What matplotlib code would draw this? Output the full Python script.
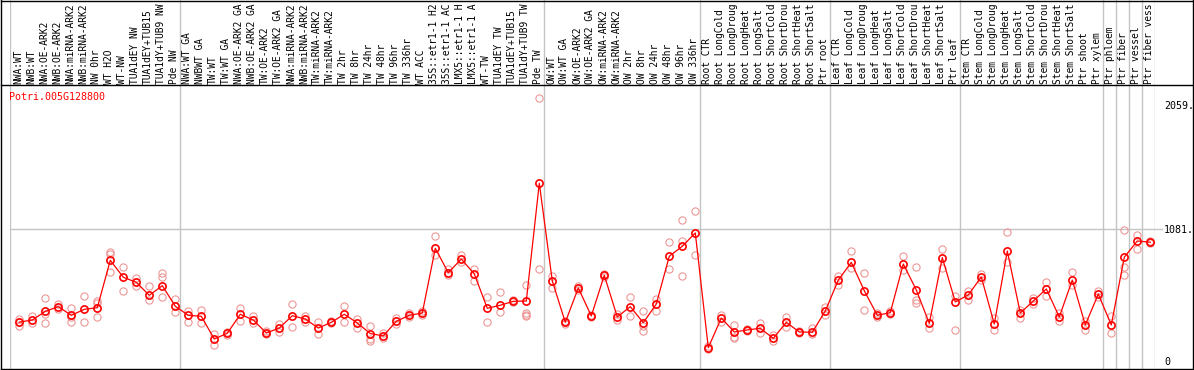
import matplotlib
matplotlib.use("Agg")
import matplotlib.pyplot as plt
from matplotlib.lines import Line2D

gene = "Potri.005G128800"

# sample names as they appear in the header (cut to 14 characters)
samples = [
    'NWA:WT', 'NWB:WT', 'NWA:OE-ARK2', 'NWB:OE-ARK2', 'NWA:miRNA-ARK2', 'NWB:miRNA-ARK2',
    'NW 0hr', 'WT H2O', 'WT-NW', 'TUA1dEY NW', 'TUA1dEY+TUB15', 'TUA1dY+TUB9 NW', 'Pde NW',
    'NWA:WT GA', 'NWBWT GA', 'TW:WT', 'TW:WT GA', 'NWA:OE-ARK2 GA', 'NWB:OE-ARK2 GA',
    'TW:OE-ARK2', 'TW:OE-ARK2 GA', 'NWA:miRNA-ARK2', 'NWB:miRNA-ARK2', 'TW:miRNA-ARK2',
    'TW:miRNA-ARK2', 'TW 2hr', 'TW 8hr', 'TW 24hr', 'TW 48hr', 'TW 96hr', 'TW 336hr',
    'WT ACC', '35S::etr1-1 H2', '35S::etr1-1 AC', 'LMX5::etr1-1 H', 'LMX5::etr1-1 A',
    'WT-TW', 'TUA1dEY TW', 'TUA1dEY+TUB15', 'TUA1dY+TUB9 TW', 'Pde TW',
    'OW:WT', 'OW:WT GA', 'OW:OE-ARK2', 'OW:OE-ARK2 GA', 'OW:miRNA-ARK2', 'OW:miRNA-ARK2',
    'OW 2hr', 'OW 8hr', 'OW 24hr', 'OW 48hr', 'OW 96hr', 'OW 336hr',
    'Root CTR', 'Root LongCold', 'Root LongDroug', 'Root LongHeat', 'Root LongSalt',
    'Root ShortCold', 'Root ShortDrou', 'Root ShortHeat', 'Root ShortSalt', 'Ptr root',
    'Leaf CTR', 'Leaf LongCold', 'Leaf LongDroug', 'Leaf LongHeat', 'Leaf LongSalt',
    'Leaf ShortCold', 'Leaf ShortDrou', 'Leaf ShortHeat', 'Leaf ShortSalt', 'Ptr leaf',
    'Stem CTR', 'Stem LongCold', 'Stem LongDroug', 'Stem LongHeat', 'Stem LongSalt',
    'Stem ShortCold', 'Stem ShortDrou', 'Stem ShortHeat', 'Stem ShortSalt', 'Ptr shoot',
    'Ptr xylem', 'Ptr phloem', 'Ptr fiber', 'Ptr vessel', 'Ptr fiber vess',
]

# index of the first sample of each group (group separators)
group_starts = [13, 41, 53, 63, 73, 84, 85, 86, 87]

means = [
    353, 369, 437, 474, 406, 453, 466, 838, 705, 665, 563, 639, 477,
    406, 398, 220, 265, 414, 369, 267, 306, 403, 377, 306, 351, 414, 346, 263,
    244, 359, 406, 424, 932, 741, 848, 731, 461, 485, 516, 518, 1443,
    676, 351, 621, 401, 720, 393, 474, 348, 495, 870, 948, 1053,
    152, 385, 275, 291, 304, 225, 351, 275, 273, 440,
    683, 822, 599, 406, 427, 809, 605, 343, 859, 511,
    566, 707, 338, 911, 424, 518, 613, 393, 683, 330, 573,
    330, 862, 990, 980,
]

replicates = [
    [377, 353, 322], [401, 346], [540, 416, 343], [495, 456], [461, 356, 395],
    [555, 356], [521, 500, 390], [901, 885, 744], [788, 597], [701, 636],
    [634, 526], [736, 709, 547], [532, 430],
    [442, 353], [448, 348], [257, 173], [277, 251], [461, 364], [401, 343],
    [257, 283], [338, 275], [495, 312], [401, 356], [351, 259], [361, 342],
    [479, 356], [375, 309], [324, 220, 207], [225, 267], [385, 338], [422, 393],
    [440, 408], [1027, 880], [770, 723], [880, 825], [767, 678], [547, 351],
    [589, 432], [526, 507], [642, 422, 401, 412], [2111, 772],
    [715, 618], [361, 338], [636, 605], [408, 393], [731, 707], [414, 369],
    [552, 398], [437, 283, 322], [532, 442], [980, 767], [1152, 990, 712],
    [1225, 877],
    [165, 141], [408, 356], [330, 238, 228], [298, 283], [348, 265], [251, 204],
    [390, 317], [283, 267], [304, 259], [469, 408],
    [715, 642], [911, 775], [736, 448], [422, 393], [440, 416], [872, 762],
    [783, 526, 500], [395, 309], [925, 775], [558, 291],
    [597, 526], [731, 683], [385, 291], [1060, 825], [448, 385], [542, 495],
    [668, 558], [424, 361], [746, 644], [361, 291], [597, 550],
    [403, 265], [1076, 783, 723], [1037, 929], [972, 990],
]

tick_values = [0, 1081, 2059]
tick_labels = ['0', '1081.', '2059.']

# ---------------------------------------------------------------------------
W, H = 1194, 370
fig = plt.figure(figsize=(W / 100, H / 100), dpi=100)
fig.patch.set_facecolor('white')
mono = 'DejaVu Sans Mono'
fs = 7.2
hfs = 6.9
grid_c = '#c4c4c4'
rep_c = '#ee9696'

x_left, x_right = 10, 1155.3
hdr_bottom = 85
ax = fig.add_axes([x_left / W, 1 / H, (x_right - x_left) / W, (369 - hdr_bottom) / H])
hx = fig.add_axes([x_left / W, (H - hdr_bottom) / H, (x_right - x_left) / W, hdr_bottom / H])

n = len(samples)
xlim = (-0.1, 88.0)
for a in (ax, hx):
    a.set_xlim(*xlim)
    for s in a.spines.values():
        s.set_visible(False)
    a.set_xticks([])
    a.patch.set_alpha(0)

ax.set_ylim(-15.7, 2215)
hx.set_ylim(0, 1)
hx.set_yticks([])

# separators
for b in [xlim[0]] + group_starts + [xlim[1]]:
    ax.axvline(b, color=grid_c, lw=1.0, zorder=1)
    hx.axvline(b, color=grid_c, lw=1.0, zorder=1)

ax.axhline(1081, xmin=0, xmax=1.006, color=grid_c, lw=1.0, zorder=1, clip_on=False)

# data
pos = [i + 0.615 for i in range(n)]
for i, reps in enumerate(replicates):
    ax.plot([pos[i]] * len(reps), reps, linestyle='none', marker='o', ms=5.2,
            mfc='none', mec=rep_c, mew=0.8, zorder=2)
ax.plot(pos, means, color='#ff0000', lw=0.9, zorder=3)
ax.plot(pos, means, linestyle='none', marker='o', ms=5.2, mfc='none',
        mec='#ff0000', mew=1.2, zorder=4)

# right axis labels
ax.yaxis.tick_right()
ax.set_yticks(tick_values)
ax.set_yticklabels(tick_labels, fontfamily=mono, fontsize=fs)
ax.tick_params(axis='y', length=0, pad=6.3)
ax.get_yticklabels()[0].set_va('bottom')

# header labels
for i, name in enumerate(samples):
    hx.text(i + 0.54, 1.5 / hdr_bottom, name, rotation=90, ha='center', va='bottom',
            fontfamily=mono, fontsize=hfs, color='black', transform=hx.transData)

fig.text(9.3 / W, 1 - 97.5 / H, gene, color='#ff0000', fontfamily=mono,
         fontsize=fs, ha='left', va='center')

# frame lines
def hline(y, x0=0.5, x1=1193):
    fig.add_artist(Line2D([x0 / W, x1 / W], [1 - y / H, 1 - y / H],
                          color='black', lw=1.0, transform=fig.transFigure))

def vline(x, y0=0, y1=370):
    fig.add_artist(Line2D([x / W, x / W], [1 - y0 / H, 1 - y1 / H],
                          color='black', lw=1.0, transform=fig.transFigure))

hline(0.5)
hline(85)
hline(369)
vline(1.0)
vline(1192.7)

fig.savefig('out.png', dpi=100)
